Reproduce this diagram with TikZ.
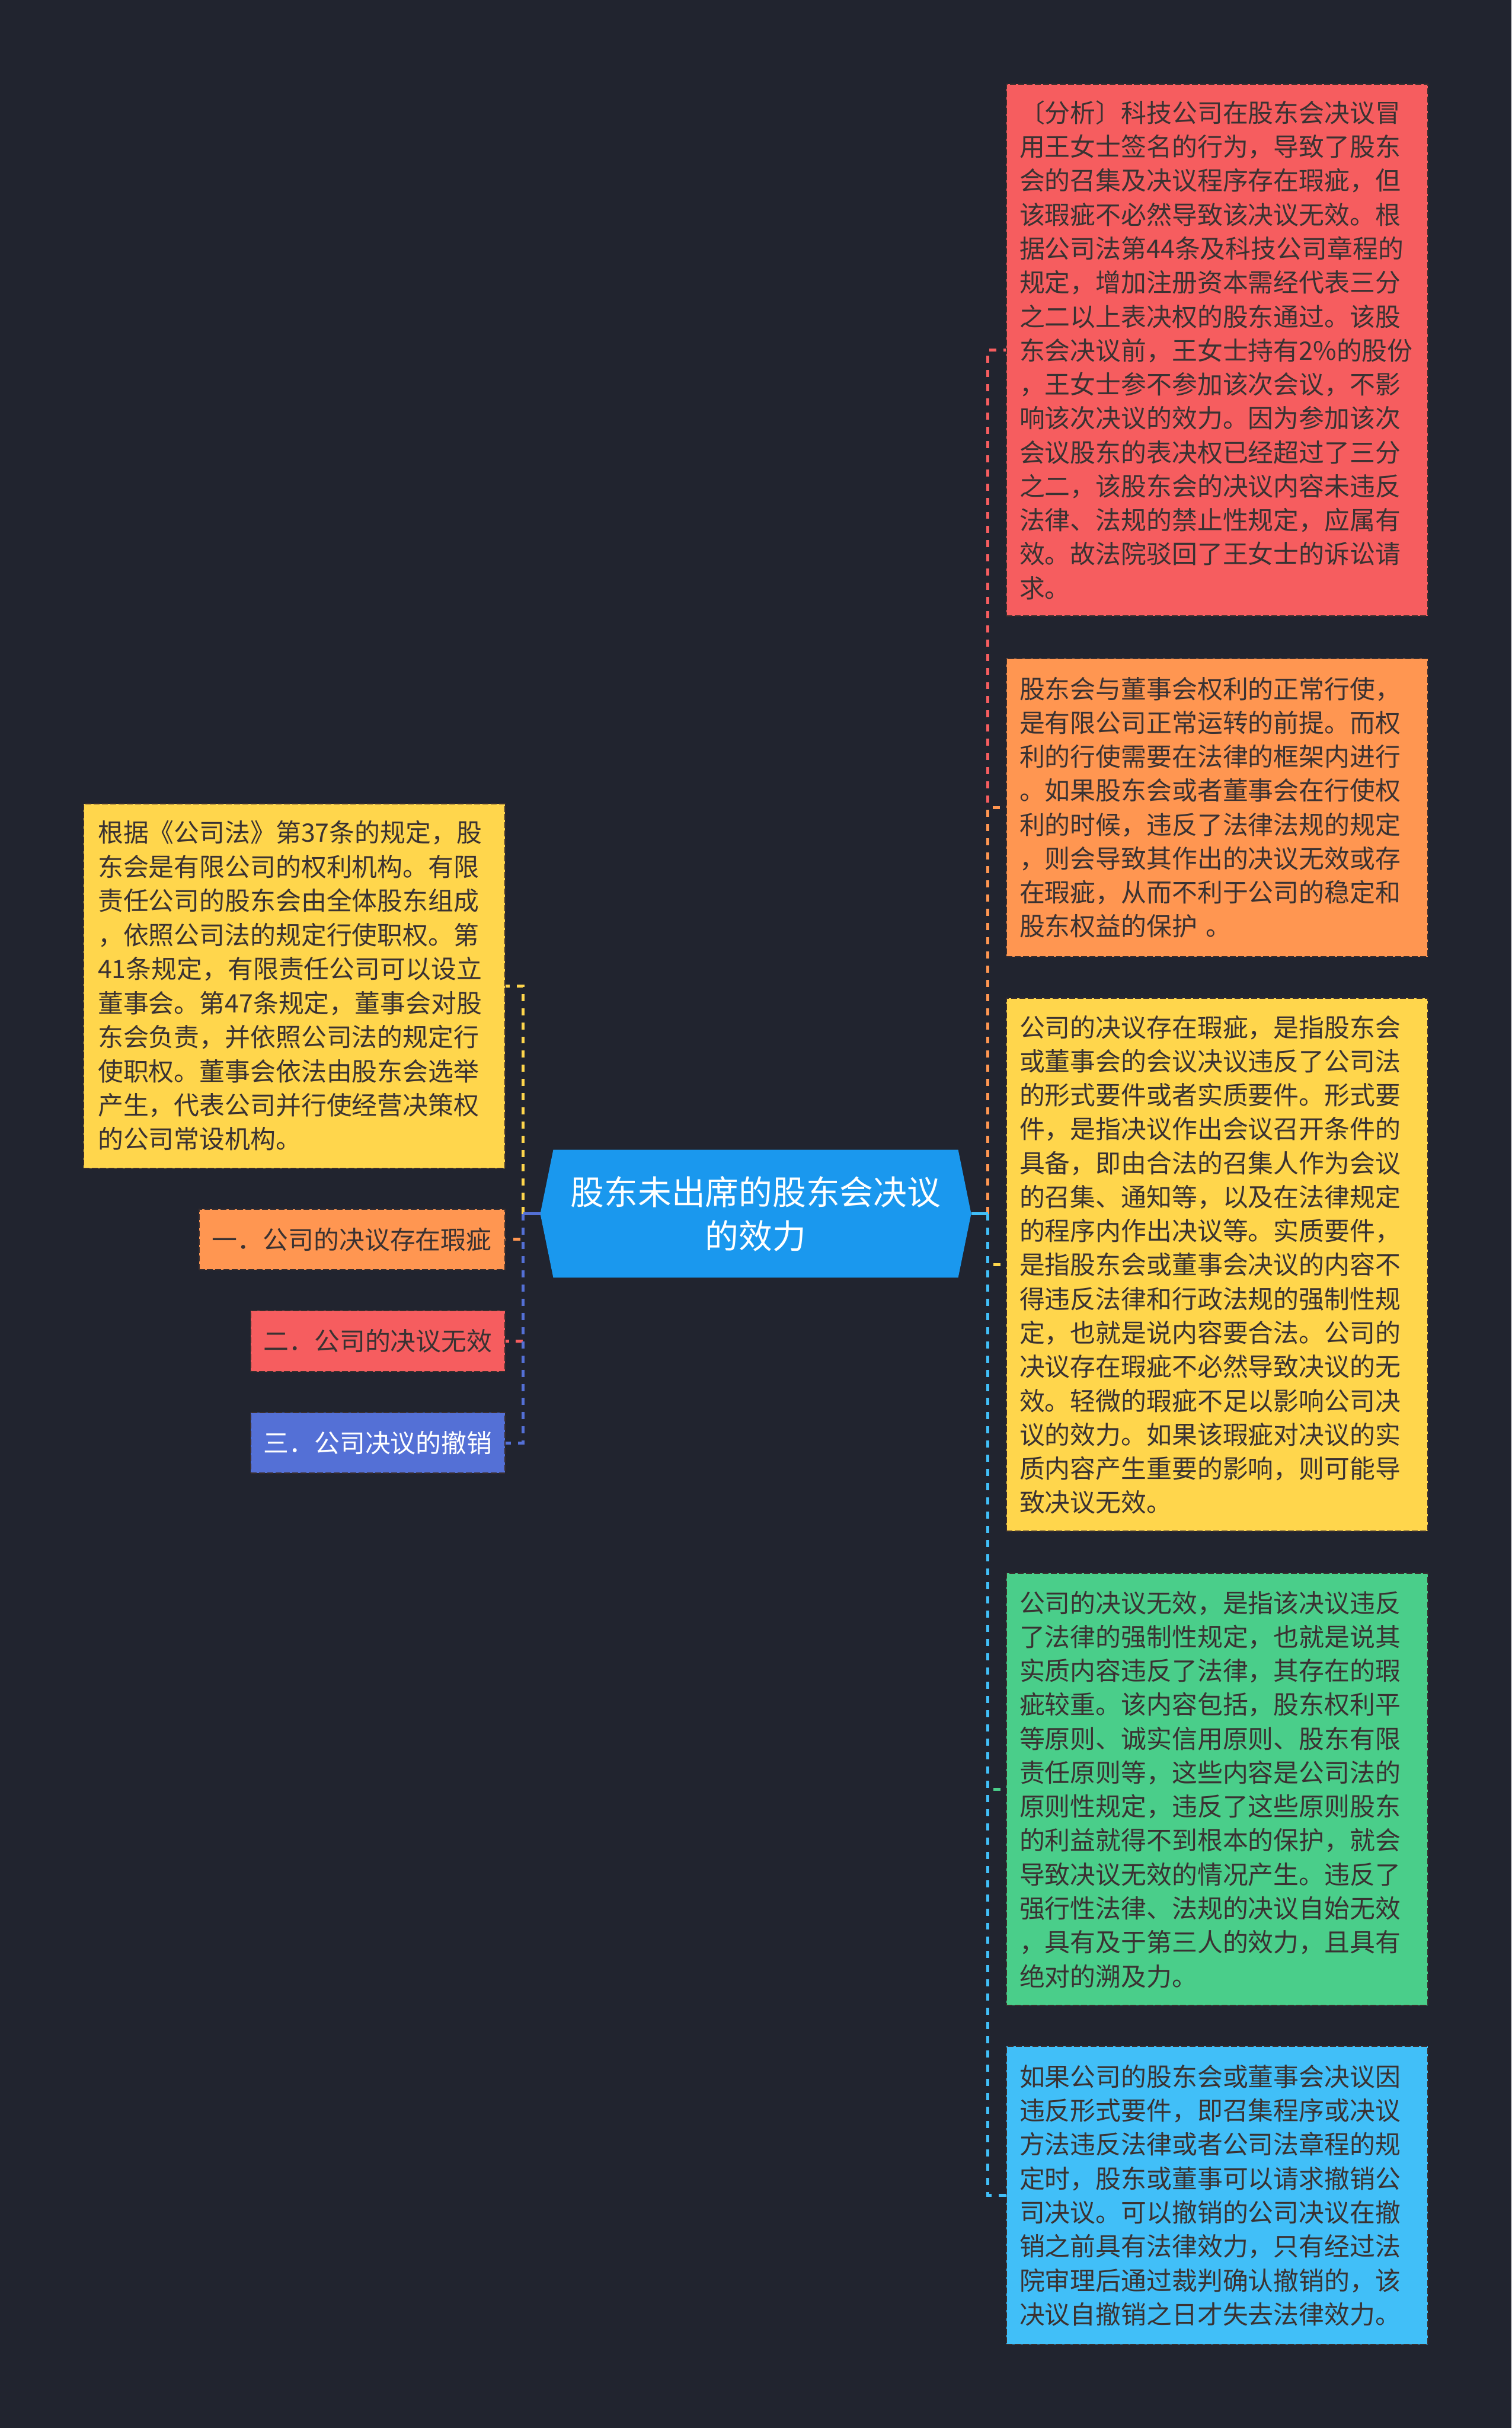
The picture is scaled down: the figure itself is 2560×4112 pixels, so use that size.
\documentclass[tikz,border=0pt]{standalone}
\usepackage{fontspec}
\newfontfamily\cjk{Noto Sans CJK SC}
\definecolor{bg}{HTML}{21242F}
\definecolor{cred}{HTML}{F65D5F}
\definecolor{corange}{HTML}{FF9651}
\definecolor{cyellow}{HTML}{FFD64C}
\definecolor{cgreen}{HTML}{4ACE8A}
\definecolor{clblue}{HTML}{41BFF8}
\definecolor{cmain}{HTML}{1A98EE}
\definecolor{cpurple}{HTML}{5470D6}
\definecolor{txt}{HTML}{3A3232}
\definecolor{boxedge}{HTML}{3A2E2E}
\begin{document}
\begin{tikzpicture}[x=0.01cm,y=-0.01cm,
  textbox/.style={draw=boxedge, line width=0.02cm, dash pattern=on 0.1cm off 0.04cm,
    text=txt, font=\cjk\fontsize{12.24pt}{16.35pt}\selectfont,
    inner xsep=0.22cm, inner ysep=0pt, text width=6.69cm, align=left, minimum width=7.13cm},
  smallbox/.style={draw=boxedge, line width=0.02cm, dash pattern=on 0.1cm off 0.04cm,
    text=txt, font=\cjk\fontsize{12.24pt}{16.35pt}\selectfont,
    inner sep=0pt, align=center, minimum height=1.03cm},
  conn/.style={line width=0.05cm, dash pattern=on 0.12cm off 0.12cm},
  stub/.style={line width=0.05cm}]
\useasboundingbox (0,0) rectangle (2560,4112);
\fill[bg] (0,0) rectangle (2560,4112);

% central node
\node[minimum width=7.28cm, minimum height=2.15cm, inner sep=0pt] (ctr) at (1280,2055.5) {};
\fill[cmain] ([xshift=0.22cm]ctr.north west) -- ([xshift=-0.22cm]ctr.north east) -- (ctr.east)
  -- ([xshift=-0.22cm]ctr.south east) -- ([xshift=0.22cm]ctr.south west) -- (ctr.west) -- cycle;
\node[text=white, font=\cjk\fontsize{16.2pt}{21.05pt}\selectfont, align=center, inner sep=0pt]
  (ctrtext) at (ctr) {股东未出席的股东会决议\\的效力};

% right boxes
\node[textbox, fill=cred, minimum height=9.00cm] (r1) at (2061.5,593) {〔分析〕科技公司在股东会决议冒\\用王女士签名的行为，导致了股东\\会的召集及决议程序存在瑕疵，但\\该瑕疵不必然导致该决议无效。根\\据公司法第44条及科技公司章程的\\规定，增加注册资本需经代表三分\\之二以上表决权的股东通过。该股\\东会决议前，王女士持有2\%的股份\\，王女士参不参加该次会议，不影\\响该次决议的效力。因为参加该次\\会议股东的表决权已经超过了三分\\之二，该股东会的决议内容未违反\\法律、法规的禁止性规定，应属有\\效。故法院驳回了王女士的诉讼请\\求。};
\node[textbox, fill=corange, minimum height=5.05cm] (r2) at (2061.5,1367.5) {股东会与董事会权利的正常行使，\\是有限公司正常运转的前提。而权\\利的行使需要在法律的框架内进行\\。如果股东会或者董事会在行使权\\利的时候，违反了法律法规的规定\\，则会导致其作出的决议无效或存\\在瑕疵，从而不利于公司的稳定和\\股东权益的保护 。};
\node[textbox, fill=cyellow, minimum height=9.02cm] (r3) at (2061.5,2142) {公司的决议存在瑕疵，是指股东会\\或董事会的会议决议违反了公司法\\的形式要件或者实质要件。形式要\\件，是指决议作出会议召开条件的\\具备，即由合法的召集人作为会议\\的召集、通知等，以及在法律规定\\的程序内作出决议等。实质要件，\\是指股东会或董事会决议的内容不\\得违反法律和行政法规的强制性规\\定，也就是说内容要合法。公司的\\决议存在瑕疵不必然导致决议的无\\效。轻微的瑕疵不足以影响公司决\\议的效力。如果该瑕疵对决议的实\\质内容产生重要的影响，则可能导\\致决议无效。};
\node[textbox, fill=cgreen, minimum height=7.31cm] (r4) at (2061.5,3030.5) {公司的决议无效，是指该决议违反\\了法律的强制性规定，也就是说其\\实质内容违反了法律，其存在的瑕\\疵较重。该内容包括，股东权利平\\等原则、诚实信用原则、股东有限\\责任原则等，这些内容是公司法的\\原则性规定，违反了这些原则股东\\的利益就得不到根本的保护，就会\\导致决议无效的情况产生。违反了\\强行性法律、法规的决议自始无效\\，具有及于第三人的效力，且具有\\绝对的溯及力。};
\node[textbox, fill=clblue, minimum height=5.04cm] (r5) at (2061.5,3718) {如果公司的股东会或董事会决议因\\违反形式要件，即召集程序或决议\\方法违反法律或者公司法章程的规\\定时，股东或董事可以请求撤销公\\司决议。可以撤销的公司决议在撤\\销之前具有法律效力，只有经过法\\院审理后通过裁判确认撤销的，该\\决议自撤销之日才失去法律效力。};

% left boxes
\node[textbox, fill=cyellow, minimum height=6.17cm, font=\cjk\fontsize{12.24pt}{16.4pt}\selectfont, inner xsep=0.24cm, text width=6.65cm] (l1) at (498.5,1669.5) {根据《公司法》第37条的规定，股\\东会是有限公司的权利机构。有限\\责任公司的股东会由全体股东组成\\，依照公司法的规定行使职权。第\\41条规定，有限责任公司可以设立\\董事会。第47条规定，董事会对股\\东会负责，并依照公司法的规定行\\使职权。董事会依法由股东会选举\\产生，代表公司并行使经营决策权\\的公司常设机构。};
\node[smallbox, fill=corange, minimum width=5.18cm] (l2) at (596,2099) {一．公司的决议存在瑕疵};
\node[smallbox, fill=cred, minimum width=4.30cm] (l3) at (640,2271.5) {二．公司的决议无效};
\node[smallbox, fill=cpurple, minimum width=4.30cm, text=white] (l4) at (640,2443.5) {三．公司决议的撤销};

% trunks
\coordinate (rt) at (1673,2055.5);
\coordinate (lt) at (886,2055.5);

% right connectors
\draw[conn, draw=cred] (rt) |- (r1.west);
\draw[stub, draw=cred] (ctr.east) -- (rt);
\draw[conn, draw=corange] (rt) |- (r2.west);
\draw[stub, draw=corange] (ctr.east) -- (rt);
\draw[conn, draw=cyellow] (rt) |- (r3.west);
\draw[stub, draw=cyellow] (ctr.east) -- (rt);
\draw[conn, draw=cgreen] (rt) |- (r4.west);
\draw[stub, draw=cgreen] (ctr.east) -- (rt);
\draw[conn, draw=clblue] (rt) |- (r5.west);
\draw[stub, draw=clblue] (ctr.east) -- (rt);

% left connectors
\draw[conn, draw=cyellow] (lt) |- (l1.east);
\draw[stub, draw=cyellow] (ctr.west) -- (lt);
\draw[conn, draw=corange] (lt) |- (l2.east);
\draw[stub, draw=corange] (ctr.west) -- (lt);
\draw[conn, draw=cred] (lt) |- (l3.east);
\draw[stub, draw=cred] (ctr.west) -- (lt);
\draw[conn, draw=cpurple] (lt) |- (l4.east);
\draw[stub, draw=cpurple] (ctr.west) -- (lt);
\end{tikzpicture}
\end{document}
